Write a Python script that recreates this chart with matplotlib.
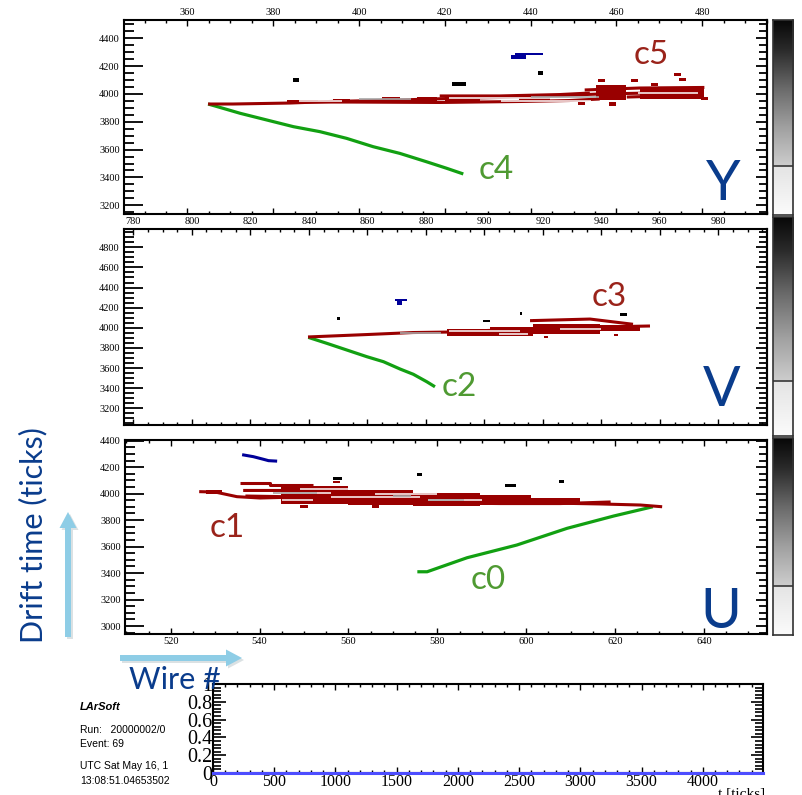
import numpy as np
import matplotlib
matplotlib.use('Agg')
import matplotlib.pyplot as plt
from matplotlib.patches import FancyArrow
from matplotlib.colors import LinearSegmentedColormap
from matplotlib.ticker import MultipleLocator, FixedLocator

# ------------------------------------------------------------------ data
# ---- Y plane (top panel), wire numbers on 360..480 scale
Y_c4_wire = [364.8, 366.4, 372.3, 378.5, 384.7, 390.9, 397.1, 403.3, 409.5, 415.7, 420.4, 424.3]
Y_c4_time = [3928, 3914, 3861, 3813, 3765, 3729, 3681, 3621, 3573, 3513, 3466, 3425]
Y_c5_strands = [
    ([364.8, 370.6, 383.9, 393.2, 409.5, 421.2, 432.8, 446.8, 456.1, 467.7, 479.4],
     [3928, 3928, 3935, 3946, 3957, 3968, 3975, 3989, 4000, 4007, 4011]),
    ([383.2, 397.9, 418.8, 437.4, 449.0, 456.1], [3942, 3942, 3939, 3946, 3953, 3964]),
    ([418.8, 432.8, 446.8, 453.8], [3986, 3986, 3996, 4007]),
    ([452.6, 465.4, 480.5], [4029, 4043, 4047]),
    ([462.4, 471.7, 479.9], [3978, 3986, 3989]),
]
Y_c5_box_w0 = [383.2, 393.9, 405.3, 413.5, 420.0, 437.4, 455.3, 465.4]
Y_c5_box_w1 = [390.4, 397.9, 409.5, 418.1, 428.1, 444.4, 462.3, 480.5]
Y_c5_box_t0 = [3935, 3935, 3946, 3935, 3932, 3953, 3957, 3964]
Y_c5_box_t1 = [3960, 3964, 3975, 3978, 3990, 3993, 4065, 4036]
Y_c5_hit_w = [456.5, 464.2, 468.9, 474.2, 475.4, 459.1, 451.8, 480.5]
Y_c5_hit_t = [4096, 4096, 4065, 4137, 4104, 3928, 3935, 3969]
Y_gap_w0 = [421.0, 433.0, 465.0, 386.0]
Y_gap_w1 = [447.0, 454.0, 479.0, 396.0]
Y_gap_t = [3968, 3950, 4007, 3950]
Y_gray_w0 = [440.0, 400.0]
Y_gray_w1 = [456.0, 412.0]
Y_gray_t = [3975, 3962]
Y_blk_w0 = [384.5, 421.6, 441.7]
Y_blk_w1 = [385.9, 424.9, 442.9]
Y_blk_t = [4101, 4072, 4151]
Y_blue_w0 = [436.3, 435.5]
Y_blue_w1 = [442.9, 439.0]
Y_blue_t0 = [4280, 4249]
Y_blue_t1 = [4292, 4280]

# ---- V plane (middle panel), wire numbers on 780..980 scale
V_c2_wire = [839.8, 846.1, 853.0, 859.8, 865.5, 871.2, 875.7, 880.3, 883.1]
V_c2_time = [3905, 3846, 3779, 3713, 3663, 3590, 3538, 3464, 3414]
V_c3_strands = [
    ([839.7, 859.8, 875.6, 888.3, 900.8, 919.0, 928.2, 939.6, 956.6],
     [3909, 3933, 3953, 3958, 3973, 3988, 4003, 4008, 4018]),
    ([915.6, 936.1, 950.8], [4071, 4087, 4035]),
]
V_c3_box_w0 = [887.2, 901.9, 916.6, 939.6]
V_c3_box_w1 = [901.9, 916.6, 939.6, 953.3]
V_c3_box_t0 = [3918, 3918, 3938, 3968]
V_c3_box_t1 = [3988, 4008, 4038, 4028]
V_c3_hit_w = [917.3, 921.0, 945.0]
V_c3_hit_t = [4076, 3905, 3930]
V_gap_w0 = [888.0, 926.0, 905.0]
V_gap_w1 = [912.0, 940.0, 915.0]
V_gap_t = [3965, 3990, 3940]
V_gray_w0 = [871.0]
V_gray_w1 = [885.0]
V_gray_t = [3948]
V_blk_w0 = [849.6, 899.5, 912.1, 946.3]
V_blk_w1 = [850.4, 901.9, 912.9, 948.7]
V_blk_t = [4094, 4067, 4144, 4134]
V_blue_w0 = [869.5, 870.2]
V_blue_w1 = [873.5, 871.9]
V_blue_t0 = [4262, 4227]
V_blue_t1 = [4282, 4266]

# ---- U plane (lower panel), wire numbers on 520..640 scale
U_c0_wire = [575.5, 577.7, 586.7, 597.9, 609.2, 619.7, 628.5]
U_c0_time = [3410, 3410, 3516, 3612, 3738, 3831, 3901]
U_c1_strands = [
    ([526.4, 530.0, 534.9, 540.1, 549.1, 560.4, 571.6, 582.9, 594.2, 605.4, 616.7, 625.7, 630.6],
     [4015, 4012, 3977, 3967, 3975, 3975, 3959, 3944, 3937, 3929, 3922, 3914, 3901]),
    ([535.6, 542.4, 542.4, 552.1], [4083, 4083, 4065, 4065]),
    ([536.3, 549.1, 560.4, 571.6, 582.9, 589.7], [4024, 4024, 4012, 3990, 3967, 3952]),
    ([536.8, 549.1, 560.4, 571.6, 582.9, 594.2, 607.7, 619.0],
     [3982, 3975, 3959, 3944, 3929, 3925, 3925, 3937]),
]
U_c1_box_w0 = [544.7, 559.8, 574.6, 589.7, 601.0, 528.0]
U_c1_box_w1 = [559.8, 574.6, 589.7, 601.0, 612.2, 531.5]
U_c1_box_t0 = [3922, 3914, 3907, 3914, 3922, 4000]
U_c1_box_t1 = [4058, 4027, 4005, 3990, 3967, 4030]
U_c1_hit_w = [557.4, 550.0, 566.0]
U_c1_hit_t = [4088, 3905, 3900]
U_gap_w0 = [538.0, 556.0, 578.0, 549.0, 545.0, 566.0]
U_gap_w1 = [556.0, 576.0, 590.0, 567.0, 552.0, 580.0]
U_gap_t = [4005, 3975, 3952, 4035, 3950, 4000]
U_gray_w0 = [543.0, 570.0, 578.0]
U_gray_w1 = [553.0, 574.0, 586.0]
U_gray_t = [4005, 3982, 3952]
U_blk_w0 = [556.6, 575.4, 595.3, 607.3]
U_blk_w1 = [558.5, 576.5, 597.6, 608.4]
U_blk_t = [4116, 4145, 4063, 4092]
U_blue_wire = [536.4, 538.6, 540.9, 542.0, 543.6]
U_blue_time = [4292, 4279, 4259, 4249, 4246]

# ---- bottom histogram (all zero)
hist_t = [0, 4492]
hist_v = [0, 0]

# ------------------------------------------------------------------ style
W, H = 802, 795
plt.rcParams['font.family'] = ['Liberation Serif', 'DejaVu Serif']
fig = plt.figure(figsize=(W / 100, H / 100), dpi=100)

RED = '#990000'
GREEN = '#12a012'
BLUE = '#000099'
LBL_RED = '#9a231a'
LBL_GREEN = '#4f9a32'
LBL_BLUE = '#0a3c8c'
ARROW = '#8ecde6'


def rect(l, t, r, b):
    return [l / W, 1 - b / H, (r - l) / W, (b - t) / H]


def make_panel(px, xlim, ylim, xlab):
    ax = fig.add_axes(rect(*px))
    ax.set_xlim(*xlim)
    ax.set_ylim(*ylim)
    ax.xaxis.set_major_locator(MultipleLocator(20))
    ax.xaxis.set_minor_locator(MultipleLocator(5))
    ax.yaxis.set_major_locator(MultipleLocator(200))
    ax.yaxis.set_minor_locator(MultipleLocator(50))
    ax.tick_params(axis='x', which='both', direction='in', top=True, bottom=True,
                   labeltop=(xlab == 'top'), labelbottom=(xlab == 'bottom'),
                   labelsize=7.5, pad=2.5, width=1)
    ax.tick_params(axis='x', which='major', length=4.5)
    ax.tick_params(axis='x', which='minor', length=2.5)
    ax.tick_params(axis='y', which='both', direction='in', left=True, right=False,
                   labelsize=7.5, pad=3, width=1.3)
    ax.tick_params(axis='y', which='major', length=13.5)
    ax.tick_params(axis='y', which='minor', length=7)
    sec = ax.secondary_yaxis('right')
    sec.yaxis.set_major_locator(MultipleLocator(200))
    sec.yaxis.set_minor_locator(MultipleLocator(50))
    sec.tick_params(which='both', direction='in', labelright=False, width=1.3)
    sec.tick_params(which='major', length=8)
    sec.tick_params(which='minor', length=6)
    sec.spines['right'].set_linewidth(1.5)
    for s in ax.spines.values():
        s.set_linewidth(1.5)
    return ax


def draw_cluster(ax, green_w, green_t, strands, bw0, bw1, bt0, bt1, hw, ht,
                 gw0, gw1, gt, yw0, yw1, yt):
    ax.plot(green_w, green_t, color=GREEN, lw=2.3, solid_capstyle='butt', zorder=3)
    for sw, st in strands:
        ax.plot(sw, st, color=RED, lw=2.2, solid_capstyle='butt', zorder=3)
    ax.bar(bw0, np.subtract(bt1, bt0), width=np.subtract(bw1, bw0), bottom=bt0,
           align='edge', color=RED, lw=0, zorder=3)
    ax.bar(hw, 22, width=1.6, bottom=np.subtract(ht, 11), color=RED, lw=0, zorder=3)
    ax.hlines(gt, gw0, gw1, color='white', lw=1.1, zorder=3.5)
    ax.hlines(yt, yw0, yw1, color='#a8a8a8', lw=1.2, zorder=3.6)


def draw_black(ax, w0, w1, t):
    ax.bar(w0, 24, width=np.maximum(np.subtract(w1, w0), 0.9), bottom=np.subtract(t, 12),
           align='edge', color='black', lw=0, zorder=4)


# ---- Y panel
axY = make_panel((124, 20, 767, 214.3), (345.2, 495.1), (3135, 4532), 'top')
draw_cluster(axY, Y_c4_wire, Y_c4_time, Y_c5_strands, Y_c5_box_w0, Y_c5_box_w1,
             Y_c5_box_t0, Y_c5_box_t1, Y_c5_hit_w, Y_c5_hit_t,
             Y_gap_w0, Y_gap_w1, Y_gap_t, Y_gray_w0, Y_gray_w1, Y_gray_t)
draw_black(axY, Y_blk_w0, Y_blk_w1, Y_blk_t)
axY.bar(Y_blue_w0, np.subtract(Y_blue_t1, Y_blue_t0), width=np.subtract(Y_blue_w1, Y_blue_w0),
        bottom=Y_blue_t0, align='edge', color=BLUE, lw=0, zorder=4)

# ---- V panel
axV = make_panel((124, 229, 767, 425), (776.8, 996.6), (3034, 4982), 'top')
draw_cluster(axV, V_c2_wire, V_c2_time, V_c3_strands, V_c3_box_w0, V_c3_box_w1,
             V_c3_box_t0, V_c3_box_t1, V_c3_hit_w, V_c3_hit_t,
             V_gap_w0, V_gap_w1, V_gap_t, V_gray_w0, V_gray_w1, V_gray_t)
draw_black(axV, V_blk_w0, V_blk_w1, V_blk_t)
axV.bar(V_blue_w0, np.subtract(V_blue_t1, V_blue_t0), width=np.subtract(V_blue_w1, V_blue_w0),
        bottom=V_blue_t0, align='edge', color=BLUE, lw=0, zorder=4)

# ---- U panel
axU = make_panel((125, 440, 767, 634), (509.7, 654.2), (2940, 4405), 'bottom')
draw_cluster(axU, U_c0_wire, U_c0_time, U_c1_strands, U_c1_box_w0, U_c1_box_w1,
             U_c1_box_t0, U_c1_box_t1, U_c1_hit_w, U_c1_hit_t,
             U_gap_w0, U_gap_w1, U_gap_t, U_gray_w0, U_gray_w1, U_gray_t)
draw_black(axU, U_blk_w0, U_blk_w1, U_blk_t)
axU.plot(U_blue_wire, U_blue_time, color=BLUE, lw=2.2, zorder=4)

# ---- colour bars
cmap = LinearSegmentedColormap.from_list(
    'bar', [(0.0, '#fbfbfb'), (0.249, '#e4e4e4'), (0.251, '#cdcdcd'),
            (0.45, '#a0a0a0'), (0.65, '#6a6a6a'), (0.85, '#2a2a2a'), (1.0, '#080808')])
grad = np.linspace(0, 1, 256).reshape(-1, 1)
for px in [(772.7, 20, 793.3, 215), (772.7, 217, 793.3, 436), (772.7, 438, 793.3, 635)]:
    cax = fig.add_axes(rect(*px))
    cax.imshow(grad, aspect='auto', cmap=cmap, origin='lower', extent=(0, 1, 0, 1))
    cax.axhline(0.25, color='#444444', lw=1.3)
    cax.set_xticks([])
    cax.set_yticks([])
    for s in cax.spines.values():
        s.set_linewidth(1.2)
        s.set_color('#333333')

# ---- bottom panel
axB = fig.add_axes(rect(213, 684, 763, 773))
axB.plot(hist_t, hist_v, color='#4d4dff', lw=2.2, zorder=3, clip_on=False)
axB.set_xlim(0, 4492)
axB.set_ylim(0, 1)
axB.xaxis.set_minor_locator(MultipleLocator(100))
axB.yaxis.set_minor_locator(MultipleLocator(0.04))
axB.set_xticks([0, 500, 1000, 1500, 2000, 2500, 3000, 3500, 4000])
axB.set_xticklabels(['0', '500', '1000', '1500', '2000', '2500', '3000', '3500', '4000'])
axB.set_yticks([0, 0.2, 0.4, 0.6, 0.8, 1.0])
axB.set_yticklabels(['0', '0.2', '0.4', '0.6', '0.8', '1'])
axB.tick_params(axis='x', which='both', direction='in', top=True, bottom=True,
                labelsize=11.5, pad=1, width=1)
axB.tick_params(axis='x', which='major', length=4.5)
axB.tick_params(axis='x', which='minor', length=2.5)
axB.tick_params(axis='y', which='both', direction='in', left=True, right=True,
                labelsize=14.5, pad=0.5, width=1.2)
axB.tick_params(axis='y', which='major', length=9)
axB.tick_params(axis='y', which='minor', length=5.5)
for s in axB.spines.values():
    s.set_linewidth(1.5)
fig.text(765 / W, 1 - 787 / H, 't [ticks]', ha='right', va='top', fontsize=11)

# ---- info text
sans = ['Liberation Sans', 'DejaVu Sans']
fig.text(80 / W, 1 - 707 / H, 'LArSoft', family=sans, weight='bold', style='italic',
         fontsize=8, va='center', ha='left')
for txt, yy in [('Run:   20000002/0', 730), ('Event: 69', 744),
                ('UTC Sat May 16, 1', 766), ('13:08:51.04653502', 781)]:
    fig.text(80 / W, 1 - yy / H, txt, family=sans, fontsize=7.5, va='center', ha='left')

# ---- overlay annotations (pixel coordinates)
ov = fig.add_axes([0, 0, 1, 1], zorder=20)
ov.set_xlim(0, W)
ov.set_ylim(H, 0)
ov.axis('off')
ov.patch.set_alpha(0)

lato = ['Lato', 'DejaVu Sans']
labels = [('c5', 651, 55, LBL_RED, 24), ('c4', 496, 170, LBL_GREEN, 24),
          ('Y', 723, 185, LBL_BLUE, 40),
          ('c3', 609, 297, LBL_RED, 24), ('c2', 459, 387, LBL_GREEN, 24),
          ('V', 722, 390, LBL_BLUE, 40),
          ('c1', 227, 528, LBL_RED, 24), ('c0', 488, 580, LBL_GREEN, 24),
          ('U', 721, 612, LBL_BLUE, 40)]
for txt, x, y, c, fs in labels:
    ov.text(x, y, txt, color=c, fontsize=fs, family=lato, ha='center', va='center')

ov.text(33, 535, 'Drift time (ticks)', color=LBL_BLUE, fontsize=22, family=lato,
        rotation=90, ha='center', va='center')
ov.text(175, 680, 'Wire #', color=LBL_BLUE, fontsize=22, family=lato,
        ha='center', va='center')

for (x, y, dx, dy) in [(68, 637, 0, -125), (120, 658, 122, 0)]:
    ov.add_patch(FancyArrow(x + 2, y + 2, dx, dy, width=6, head_width=17, head_length=16,
                            length_includes_head=True, color='#b8c4c8', alpha=0.5, lw=0))
    ov.add_patch(FancyArrow(x, y, dx, dy, width=6, head_width=17, head_length=16,
                            length_includes_head=True, color=ARROW, lw=0))

fig.savefig('out.png', dpi=100)
